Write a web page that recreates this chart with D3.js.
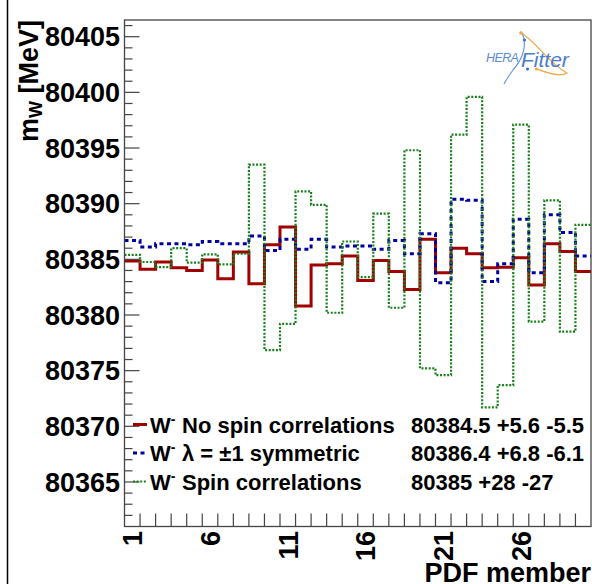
<!DOCTYPE html>
<html>
<head>
<meta charset="utf-8">
<script src="https://cdn.jsdelivr.net/npm/d3@7"></script>
<style>
  html, body { margin: 0; padding: 0; background: #fff; }
  svg { display: block; font-family: "Liberation Sans", Arial, Helvetica, sans-serif; }
</style>
</head>
<body>
<svg id="chart" width="592" height="584"></svg>
<script>
// ---------- data ----------
const pdfMembers = d3.range(1, 31);
const xTickLabels = [1, 6, 11, 16, 21, 26];
const yMajorTicks = [80365, 80370, 80375, 80380, 80385, 80390, 80395, 80400, 80405];

const noSpinCorr = [80384.85, 80384.1, 80384.76, 80384.25, 80384.0, 80384.94, 80383.26, 80385.66, 80382.8, 80386.3,
                    80387.9, 80380.8, 80384.5, 80384.6, 80385.3, 80383.1, 80384.9, 80383.9, 80382.3, 80386.8,
                    80383.8, 80386.0, 80385.5, 80384.25, 80384.3, 80385.15, 80382.7, 80386.4, 80385.7, 80383.9];
const lambdaSym = [80386.7, 80386.1, 80386.4, 80386.4, 80386.3, 80386.6, 80386.4, 80386.4, 80387.1, 80385.8,
                   80386.8, 80385.9, 80386.8, 80386.1, 80386.2, 80386.2, 80385.9, 80386.7, 80385.5, 80387.3,
                   80382.9, 80390.4, 80390.3, 80383.0, 80384.6, 80388.6, 80383.8, 80389.0, 80387.4, 80385.3];
const spinCorr = [80385.4, 80384.76, 80384.3, 80386.0, 80384.7, 80385.45, 80384.55, 80385.5, 80393.5, 80376.85,
                  80379.2, 80391.1, 80389.9, 80380.2, 80386.6, 80383.4, 80389.1, 80380.65, 80394.8, 80375.2,
                  80374.6, 80396.2, 80399.6, 80371.7, 80373.7, 80397.1, 80379.4, 80390.3, 80378.5, 80388.1];

const legendLabels = ["No spin correlations", "λ = ±1 symmetric", "Spin correlations"];
const legendValues = ["80384.5 +5.6 -5.5", "80386.4 +6.8 -6.1", "80385 +28 -27"];

// ---------- layout ----------
const L = 124.5, R = 591, T = 20, B = 526.5;
const svg = d3.select("#chart");

const x = d3.scaleLinear().domain([0.5, 30.5]).range([L, R]);
const y = d3.scaleLinear().domain([80361, 80406.5]).range([B, T]);

// canvas left border
svg.append("line").attr("x1", 7.5).attr("x2", 7.5).attr("y1", 0).attr("y2", 584)
   .attr("stroke", "#000").attr("stroke-width", 1.5);

svg.append("defs").append("clipPath").attr("id", "plotclip")
   .append("rect").attr("x", L).attr("y", T).attr("width", R - L).attr("height", B - T);

// ---------- series ----------
const series = [
  { vals: noSpinCorr, color: "#a00000", width: 3, dash: null },
  { vals: lambdaSym, color: "#0000a0", width: 3, dash: "4 3.5" },
  { vals: spinCorr, color: "#17801a", width: 2.2, dash: "2 1.6" }
];

const stepLine = d3.line().x(d => x(d[0])).y(d => y(d[1])).curve(d3.curveStepAfter);
const g = svg.append("g").attr("clip-path", "url(#plotclip)");
series.forEach(s => {
  const pts = pdfMembers.map((m, i) => [m - 0.5, s.vals[i]]);
  pts.push([pdfMembers[pdfMembers.length - 1] + 0.5, s.vals[s.vals.length - 1]]);
  const p = g.append("path").attr("d", stepLine(pts)).attr("fill", "none")
    .attr("stroke", s.color).attr("stroke-width", s.width);
  if (s.dash) p.attr("stroke-dasharray", s.dash);
});

// ---------- frame ----------
svg.append("rect").attr("x", L).attr("y", T).attr("width", R - L).attr("height", B - T)
   .attr("fill", "none").attr("stroke", "#444").attr("stroke-width", 1.3);

// y ticks (inside)
const yMinor = d3.range(80362, 80407, 1);
svg.append("g").selectAll("line").data(yMinor).join("line")
   .attr("x1", L).attr("x2", d => L + (d % 5 === 0 ? 15 : 8))
   .attr("y1", d => y(d)).attr("y2", d => y(d))
   .attr("stroke", "#444").attr("stroke-width", 1.2);

svg.append("g").selectAll("text").data(yMajorTicks).join("text")
   .attr("x", 120).attr("y", d => y(d)).attr("dy", "0.36em")
   .attr("text-anchor", "end").attr("font-weight", "bold").attr("font-size", 27)
   .text(d => d);

// x ticks (bin edges, pointing up)
const xEdges = d3.range(1.5, 30.5, 1);
svg.append("g").selectAll("line").data(xEdges).join("line")
   .attr("x1", d => x(d)).attr("x2", d => x(d))
   .attr("y1", B).attr("y2", B - 13)
   .attr("stroke", "#444").attr("stroke-width", 1.2);

svg.append("g").selectAll("text").data(xTickLabels).join("text")
   .attr("transform", d => `translate(${x(d)},531) rotate(-90)`)
   .attr("dy", "0.36em").attr("text-anchor", "end")
   .attr("font-weight", "bold").attr("font-size", 27)
   .text(d => d);

// axis titles
svg.append("text").attr("x", 591).attr("y", 582).attr("text-anchor", "end")
   .attr("font-weight", "bold").attr("font-size", 27).text("PDF member");

const yt = svg.append("text").attr("transform", "translate(38,20) rotate(-90)")
   .attr("text-anchor", "end").attr("font-weight", "bold").attr("font-size", 27);
yt.append("tspan").text("m");
yt.append("tspan").attr("font-size", 18).attr("dy", 4).text("W");
yt.append("tspan").attr("dy", -4).text(" [MeV]");

// ---------- legend ----------
const rowY = [432.5, 461, 489.5];
series.forEach((s, i) => {
  const ly = rowY[i] - 8;
  const ln = svg.append("line").attr("x1", 133).attr("x2", 147).attr("y1", ly).attr("y2", ly)
    .attr("stroke", s.color).attr("stroke-width", s.width);
  if (s.dash) ln.attr("stroke-dasharray", s.dash);
  const t = svg.append("text").attr("x", 150).attr("y", rowY[i])
    .attr("font-weight", "bold").attr("font-size", 22);
  t.append("tspan").text("W");
  t.append("tspan").attr("font-size", 14).attr("dy", -9).text("-");
  t.append("tspan").attr("x", 182).attr("dy", 9).text(legendLabels[i]);
  svg.append("text").attr("x", 411).attr("y", rowY[i])
    .attr("font-weight", "bold").attr("font-size", 22).text(legendValues[i]);
});

// ---------- HERAFitter logo ----------
const logo = svg.append("g");
logo.append("path").attr("d", "M520,32 C540,45 545,60 567,73 C560,78 545,72 537,69")
   .attr("fill", "none").attr("stroke", "#f0a848").attr("stroke-width", 1.2);
logo.append("path").attr("d", "M522,33 C528,45 522,60 513,70 C508,77 505,82 504,84")
   .attr("fill", "none").attr("stroke", "#6a9ae0").attr("stroke-width", 1.2);
logo.append("circle").attr("cx", 521).attr("cy", 33).attr("r", 1.8).attr("fill", "#f0a848");
logo.append("circle").attr("cx", 524.5).attr("cy", 40).attr("r", 1.6).attr("fill", "#3a6fd0");
logo.append("circle").attr("cx", 527.5).attr("cy", 69).attr("r", 1.6).attr("fill", "#3a6fd0");
logo.append("circle").attr("cx", 536.5).attr("cy", 69).attr("r", 1.6).attr("fill", "#f0a848");
const lt = logo.append("text").attr("x", 486).attr("y", 62).attr("font-style", "italic");
lt.append("tspan").attr("font-size", 12.5).attr("letter-spacing", -0.6).attr("fill", "#5b8ad6").text("HERA");
lt.append("tspan").attr("x", 521).attr("y", 67).attr("font-size", 21).attr("letter-spacing", 0).attr("fill", "#4a7cd0").text("Fitter");
</script>
</body>
</html>
